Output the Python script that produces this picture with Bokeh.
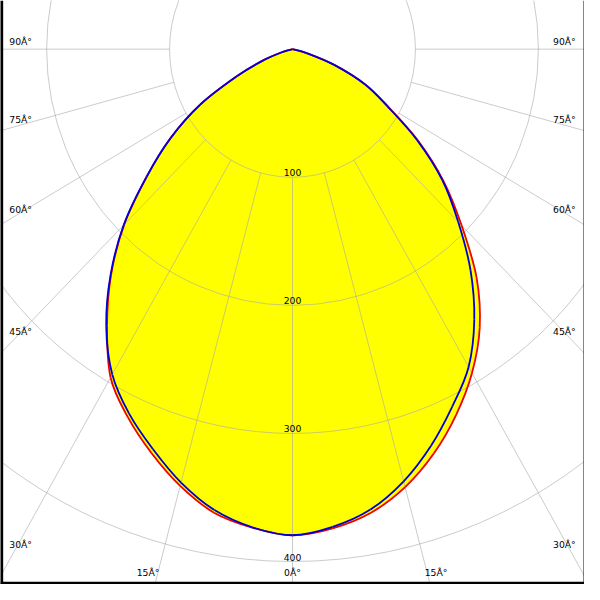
import math
from bokeh.plotting import figure
from bokeh.models import Range1d
from bokeh.embed import file_html
from bokeh.resources import INLINE
from bokeh.core.properties import value

# ---------------- data (cd/klm) ----------------
angles = [0, 5, 10, 15, 20, 25, 30, 35, 40, 45, 50, 55, 60, 65, 70, 75, 80, 85, 90]
c0 = [379.5, 375.5, 367.5, 354.0, 336.0, 315.0, 292.0, 265.5, 233.0, 194.5, 160.5, 125.0, 90.0, 65.5, 37.0, 12.5, 0, 0, 0]      # red, right half
c180 = [379.5, 375.0, 367.5, 353.0, 335.5, 317.0, 296.0, 263.0, 229.5, 193.5, 154.5, 121.0, 87.0, 50.0, 25.0, 8.0, 0, 0, 0]    # red, left half
c90 = [379.5, 374.4, 365.0, 349.3, 329.5, 307.7, 286.5, 257.8, 225.3, 190.6, 159.2, 123.6, 89.0, 65.2, 36.5, 12.0, 0, 0, 0]     # blue, right half
c270 = [379.5, 374.7, 365.4, 350.3, 332.2, 314.2, 293.2, 264.2, 230.3, 194.2, 155.0, 121.1, 86.8, 49.7, 24.5, 8.0, 0, 0, 0]     # blue, left half

rings = [100, 200, 300, 400]
ring_labels = ["100", "200", "300", "400"]
spokes = [0, 15, 30, 45, 60, 75, 90]
spoke_labels = ["0Â°", "15Â°", "30Â°", "45Â°", "60Â°", "75Â°", "90Â°"]

# ---------------- geometry ----------------
REF = 600.0
W = 584
K = W / REF
CX, CY = 300.0, 50.0          # centre in reference pixels
SX, SY = 1.263, 1.316         # reference px per cd/klm (x, y)

def dx(px):
    return (px - CX) / SX

def dy(py):
    return -(py - CY) / SY

p = figure(width=W, height=W, output_backend="svg", toolbar_location=None,
           x_range=Range1d(dx(0), dx(REF)), y_range=Range1d(dy(REF), dy(0)),
           min_border=0, background_fill_color="white", border_fill_color="white")
p.axis.visible = False
p.grid.visible = False
p.outline_line_color = None


def polygon(left, right):
    pts = []
    for a, r in reversed(list(zip(angles, left))):
        t = math.radians(a)
        pts.append((-r * math.sin(t), -r * math.cos(t)))
    for a, r in zip(angles, right):
        t = math.radians(a)
        pts.append((r * math.sin(t), -r * math.cos(t)))
    out = []
    for q in pts:
        if not out or abs(q[0] - out[-1][0]) > 1e-9 or abs(q[1] - out[-1][1]) > 1e-9:
            out.append(q)
    return out


def draw_smooth(pts, color, width):
    # Catmull-Rom through the measured vertices, drawn as cubic Bezier pieces
    n = len(pts)
    x0, y0, x1, y1, cx0, cy0, cx1, cy1 = [], [], [], [], [], [], [], []
    for i in range(n - 1):
        pm = pts[max(i - 1, 0)]
        p0 = pts[i]
        p1 = pts[i + 1]
        p2 = pts[min(i + 2, n - 1)]
        x0.append(p0[0]); y0.append(p0[1])
        x1.append(p1[0]); y1.append(p1[1])
        cx0.append(p0[0] + (p1[0] - pm[0]) / 6.0); cy0.append(p0[1] + (p1[1] - pm[1]) / 6.0)
        cx1.append(p1[0] - (p2[0] - p0[0]) / 6.0); cy1.append(p1[1] - (p2[1] - p0[1]) / 6.0)
    p.bezier(x0=x0, y0=y0, x1=x1, y1=y1, cx0=cx0, cy0=cy0, cx1=cx1, cy1=cy1,
             line_color=color, line_width=width)

red = polygon(c180, c0)
blue = polygon(c270, c90)

# yellow fill (union of both planes)
p.patch([q[0] for q in red], [q[1] for q in red], fill_color="#ffff00", line_color="#ffff00", line_width=1.5)
p.patch([q[0] for q in blue], [q[1] for q in blue], fill_color="#ffff00", line_color="#ffff00", line_width=1.5)

# grid
GRID = "#a8a8a8"
GA = 0.6
p.ellipse(x=[0] * len(rings), y=[0] * len(rings), width=[2 * r for r in rings],
          height=[2 * r for r in rings], fill_color=None, line_color=GRID,
          line_alpha=GA, line_width=1)
x0s, y0s, x1s, y1s = [], [], [], []
for a in spokes:
    t = math.radians(a)
    for s in ([1] if a == 0 else [-1, 1]):
        x0s.append(s * rings[0] * math.sin(t)); y0s.append(-rings[0] * math.cos(t))
        x1s.append(s * 2000 * math.sin(t)); y1s.append(-2000 * math.cos(t))
p.segment(x0s, y0s, x1s, y1s, line_color=GRID, line_alpha=GA, line_width=1)

# curves
draw_smooth(red, "#ee0000", 1.8)
draw_smooth(blue, "#0000d8", 1.8)

FONT = value("DejaVu Sans")
FS = "%.2fpx" % (9.5 * K)

# ring labels on the 0 deg spoke
p.text(x=[0] * len(rings), y=[-r for r in rings], text=ring_labels,
       text_align="center", text_baseline="bottom", y_offset=-1 * K,
       text_font=FONT, text_font_size=FS, text_color="black")

# side labels (30..90 deg): on the spoke, 13.5 px in from the edge, raised 8 px
lx, ly, lt, rxl = [], [], [], []
xa = abs(dx(13.5))
for a, lab in zip(spokes, spoke_labels):
    if a < 30:
        continue
    t = math.radians(a)
    yy = 0.0 if a == 90 else -xa / math.tan(t)
    lx.append(dx(9)); ly.append(yy); lt.append(lab)
    rxl.append(dx(591))
p.text(x=lx, y=ly, text=lt, text_align="left", text_baseline="middle",
       y_offset=-8 * K, text_font=FONT, text_font_size=FS, text_color="black")
p.text(x=rxl, y=ly, text=lt, text_align="right", text_baseline="middle",
       y_offset=-8 * K, text_font=FONT, text_font_size=FS, text_color="black")

# bottom labels (0, 15 deg): at the spoke's exit through the bottom edge
ybot = dy(REF)
t15 = math.radians(spokes[1])
xb15 = -ybot * math.tan(t15)
yl = dy(588)
p.text(x=[0], y=[yl], text=[spoke_labels[0]], text_align="center",
       text_baseline="middle", text_font=FONT, text_font_size=FS, text_color="black")
p.text(x=[-xb15], y=[yl], text=[spoke_labels[1]], text_align="center",
       text_baseline="middle", x_offset=-7 * K, text_font=FONT, text_font_size=FS, text_color="black")
p.text(x=[xb15], y=[yl], text=[spoke_labels[1]], text_align="center",
       text_baseline="middle", x_offset=6 * K, text_font=FONT, text_font_size=FS, text_color="black")

# frame border (thick left/bottom, thin right)
xs0, xs1 = dx(0), dx(REF)
ys0, ys1 = dy(REF), dy(0)
p.segment([xs0], [ys0], [xs0], [ys1], line_color="black", line_width=5.5 * K)
p.segment([xs0], [ys0], [xs1], [ys0], line_color="black", line_width=5.5 * K)
p.segment([xs1], [ys0], [xs1], [ys1], line_color="black", line_width=2 * K)

open("out.html", "w").write(file_html(p, INLINE))
